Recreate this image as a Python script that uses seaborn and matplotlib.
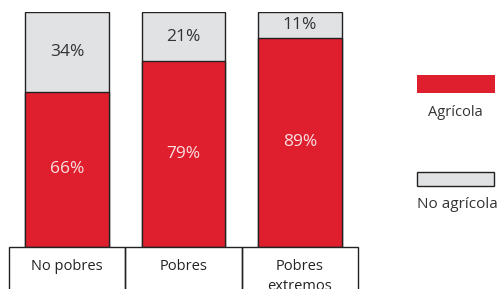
import matplotlib
matplotlib.use("Agg")
import matplotlib.pyplot as plt
import seaborn as sns
import pandas as pd
from matplotlib.patches import Rectangle

categories = ["No pobres", "Pobres", "Pobres\nextremos"]
agricola = [66, 79, 89]
no_agricola = [34, 21, 11]
series_names = ["Agrícola", "No agrícola"]

RED = "#E01F2E"
GRAY = "#E1E2E4"
EDGE = "#222222"

sns.set_theme(style="white")
plt.rcParams['font.family'] = ['Open Sans', 'DejaVu Sans']

W, H = 498, 289
fig = plt.figure(figsize=(W / 100, H / 100), dpi=100)
ax = fig.add_axes([9 / W, (H - 247) / H, (358 - 9) / W, (247 - 12) / H])

df = pd.DataFrame({"cat": categories, "agr": agricola, "noagr": no_agricola})
df["total"] = df["agr"] + df["noagr"]

sns.barplot(data=df, x="cat", y="total", color=GRAY, edgecolor=EDGE,
            linewidth=1, width=0.72, ax=ax, saturation=1)
sns.barplot(data=df, x="cat", y="agr", color=RED, edgecolor=EDGE,
            linewidth=1, width=0.72, ax=ax, saturation=1)

ax.set_xlim(-0.5, 2.5)
ax.set_ylim(0, 100)
ax.set_xlabel("")
ax.set_ylabel("")
ax.set_yticks([])
for s in ax.spines.values():
    s.set_visible(False)
ax.tick_params(axis="x", length=0, pad=9, labelsize=10.5, labelcolor="#222222")
ax.set_xticks(range(len(categories)), categories)
for lbl in ax.get_xticklabels():
    lbl.set_linespacing(1.45)

# table-like boxes under the bars
for i in range(len(categories)):
    ax.add_patch(Rectangle((i - 0.5, -30), 1, 30, fill=False, edgecolor=EDGE,
                           linewidth=1, clip_on=False))

for i, (a, n) in enumerate(zip(agricola, no_agricola)):
    ax.text(i, a / 2, f"{a}%", ha="center", va="center", fontsize=12.5,
            color="#F8E0E2")
    ax.text(i, a + n / 2, f"{n}%", ha="center", va="center", fontsize=12.5,
            color="#333333")

# legend drawn manually (swatch above label)
def fx(px):
    return px / W

def fy(py):
    return (H - py) / H

fig.patches.append(Rectangle((fx(417), fy(93)), fx(495) - fx(417), fy(75) - fy(93),
                             transform=fig.transFigure, facecolor=RED,
                             edgecolor="none", figure=fig))
fig.patches.append(Rectangle((fx(417), fy(186)), fx(494) - fx(417), fy(172) - fy(186),
                             transform=fig.transFigure, facecolor=GRAY,
                             edgecolor=EDGE, linewidth=1, figure=fig))
fig.text(fx(455), fy(112), series_names[0], ha="center", va="center",
         fontsize=10.5, color="#333333")
fig.text(fx(457), fy(204), series_names[1], ha="center", va="center",
         fontsize=11, color="#333333")

fig.savefig("out.png", dpi=100)
